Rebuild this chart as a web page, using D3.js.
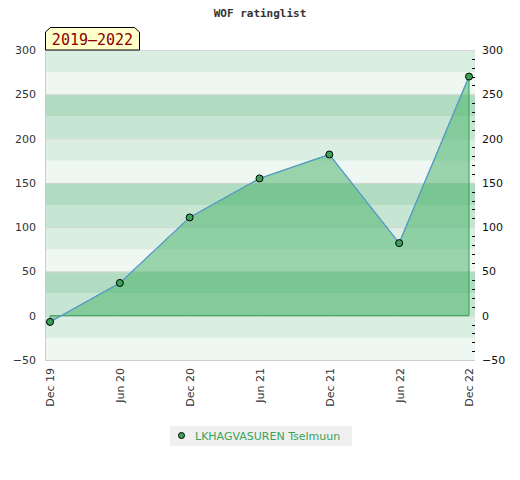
<!DOCTYPE html>
<html><head><meta charset="utf-8">
<script src="https://cdn.jsdelivr.net/npm/d3@7"></script>
<style>body{margin:0;background:#fff}</style>
</head><body>
<svg id="c" width="520" height="480"></svg>
<script>
const categories = ["Dec 19","Jun 20","Dec 20","Jun 21","Dec 21","Jun 22","Dec 22"];
const ratings = [-7, 37, 111, 155, 182, 82, 270];
const yTicks = [-50, 0, 50, 100, 150, 200, 250, 300];
const seriesName = "LKHAGVASUREN Tselmuun";
const periodLabel = "2019\u20132022";
const title = "WOF ratinglist";

const svg = d3.select("#c");
const L = 45, R = 475, T = 50, B = 360;
const x = d3.scalePoint().domain(categories).range([50, 469]);
const y = d3.scaleLinear().domain([-50, 300]).range([B, T]);

// bands
const bandColors = ["#c7e5d3", "#b2dcc2", "#eff7f2", "#daeee2"];
const bands = d3.range(-50, 300, 25);
svg.append("g").selectAll("rect").data(bands).join("rect")
  .attr("x", L).attr("width", R - L)
  .attr("y", d => y(d + 25)).attr("height", d => y(d) - y(d + 25))
  .attr("fill", d => bandColors[(((d / 25) % 4) + 4) % 4]);

// grid lines
svg.append("g").selectAll("line").data(yTicks.slice(1)).join("line")
  .attr("x1", L).attr("x2", R).attr("y1", d => y(d) + 0.5).attr("y2", d => y(d) + 0.5)
  .attr("stroke", "#d4d4d4").attr("stroke-width", 1);

// area
const area = d3.area().x((d, i) => x(categories[i])).y0(y(0)).y1(d => y(d));
svg.append("path").datum(ratings).attr("d", area)
  .attr("fill", "rgb(66,175,100)").attr("fill-opacity", 0.5)
  .attr("stroke", "#2ea050").attr("stroke-width", 1);
const line = d3.line().x((d, i) => x(categories[i])).y(d => y(d));
svg.append("path").datum(ratings).attr("d", line)
  .attr("fill", "none").attr("stroke", "#5b9bd5").attr("stroke-width", 1.2);

// border
svg.append("line").attr("x1", L + 0.5).attr("x2", L + 0.5).attr("y1", T).attr("y2", B).attr("stroke", "#ccc");
svg.append("line").attr("x1", L).attr("x2", R).attr("y1", B + 0.5).attr("y2", B + 0.5).attr("stroke", "#ccc");
svg.append("line").attr("x1", L).attr("x2", R).attr("y1", T + 0.5).attr("y2", T + 0.5).attr("stroke", "#d4d4d4");

// points
svg.append("g").selectAll("circle").data(ratings).join("circle")
  .attr("cx", (d, i) => x(categories[i])).attr("cy", d => y(d)).attr("r", 3.5)
  .attr("fill", "#3aa35a").attr("stroke", "#000").attr("stroke-width", 1);

// left axis
const la = svg.append("g").attr("transform", `translate(${L - 9},0)`)
  .call(d3.axisLeft(y).tickValues(yTicks).tickSize(0).tickPadding(0));
la.select(".domain").remove();
la.selectAll("text").attr("font-family", "DejaVu Sans").attr("font-size", 11).attr("fill", "#333");

// right axis
const ra = svg.append("g").attr("transform", `translate(${R + 7},0)`)
  .call(d3.axisRight(y).tickValues(yTicks).tickSize(0).tickPadding(0));
ra.select(".domain").remove();
ra.selectAll("text").attr("font-family", "DejaVu Sans").attr("font-size", 11).attr("fill", "#111");
const minor = d3.range(-40, 300, 10).filter(v => v % 50 !== 0);
svg.append("g").selectAll("line").data(minor).join("line")
  .attr("x1", R - 3).attr("x2", R).attr("y1", d => Math.round(y(d)) + 0.5).attr("y2", d => Math.round(y(d)) + 0.5)
  .attr("stroke", "#000");

// x axis labels
const xa = svg.append("g").attr("transform", `translate(0,${B + 8})`)
  .call(d3.axisBottom(x).tickSize(0).tickPadding(0));
xa.select(".domain").remove();
xa.selectAll("text").attr("font-family", "DejaVu Sans").attr("font-size", 11).attr("fill", "#333")
  .attr("text-anchor", "end").attr("dy", "0.35em").attr("transform", "rotate(-90)").attr("x", 0).attr("y", 0);

// title
svg.append("text").attr("x", 260).attr("y", 17).attr("text-anchor", "middle")
  .attr("font-family", "DejaVu Sans Mono").attr("font-weight", "bold").attr("font-size", 11)
  .attr("fill", "#333").text(title);

// badge
const bx0 = 45, bx1 = 140, by0 = 27, by1 = 50;
svg.append("path")
  .attr("d", `M${bx0 + 0.5},${by1}L${bx0 + 0.5},${by0 + 5}L${bx0 + 5.5},${by0 + 0.5}L${bx1 - 5.5},${by0 + 0.5}L${bx1 - 0.5},${by0 + 5}L${bx1 - 0.5},${by1}Z`)
  .attr("fill", "#ffffcc").attr("stroke", "#000").attr("stroke-width", 1);
svg.append("text").attr("x", (bx0 + bx1) / 2).attr("y", 45).attr("text-anchor", "middle")
  .attr("font-family", "DejaVu Sans Mono").attr("font-size", 15).attr("fill", "#8b0000").text(periodLabel);

// legend
const lg = svg.append("g");
lg.append("rect").attr("x", 170).attr("y", 426).attr("width", 182).attr("height", 20).attr("fill", "#f0f0f0");
lg.append("circle").attr("cx", 181.5).attr("cy", 435.5).attr("r", 3).attr("fill", "#3aa35a").attr("stroke", "#000");
lg.append("text").attr("x", 195).attr("y", 440).attr("font-family", "DejaVu Sans").attr("font-size", 11)
  .attr("fill", "#3aa35a").text(seriesName);
</script>
</body></html>
